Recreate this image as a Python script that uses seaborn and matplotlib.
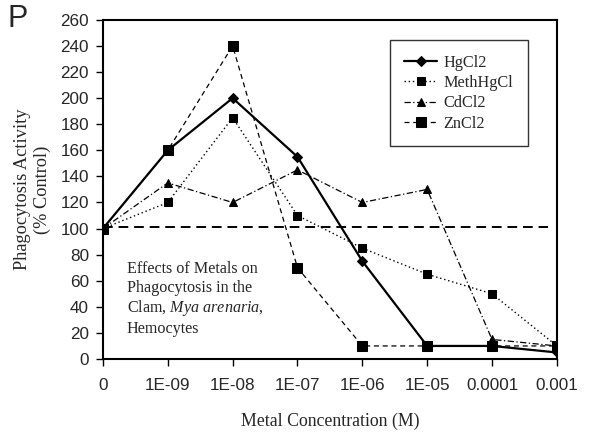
import matplotlib
matplotlib.use("Agg")
import matplotlib.pyplot as plt
import seaborn as sns
import pandas as pd

categories = ["0", "1E-09", "1E-08", "1E-07", "1E-06", "1E-05", "0.0001", "0.001"]
hgcl2 = [100, 160, 200, 155, 75, 10, 10, 5]
methhgcl = [100, 120, 185, 110, 85, 65, 50, 10]
cdcl2 = [100, 135, 120, 145, 120, 130, 15, 10]
zncl2 = [100, 160, 240, 70, 10, 10, 10, 10]
y_ticks = list(range(0, 261, 20))
control_level = 101

sns.set_theme(style="ticks")
plt.rcParams["font.family"] = ["Liberation Serif", "DejaVu Serif"]
plt.rcParams["mathtext.fontset"] = "custom"
plt.rcParams["mathtext.rm"] = "Liberation Serif"
plt.rcParams["mathtext.it"] = "Liberation Serif:italic"

fig = plt.figure(figsize=(6.02, 4.32), dpi=100)
ax = fig.add_axes([0.171, 0.169, 0.754, 0.785])

x = list(range(len(categories)))
series = [
    ("HgCl2", hgcl2, dict(linestyle="-", marker="D", markersize=5, linewidth=1.6)),
    ("MethHgCl", methhgcl, dict(linestyle=(0, (1, 2)), marker="s", markersize=6, linewidth=1.0)),
    ("CdCl2", cdcl2, dict(linestyle=(0, (5, 2, 1, 2)), marker="^", markersize=6, linewidth=0.9)),
    ("ZnCl2", zncl2, dict(linestyle=(0, (4, 3)), marker="s", markersize=7, linewidth=0.9)),
]
for name, vals, style in series:
    df = pd.DataFrame({"x": x, "y": vals})
    sns.lineplot(data=df, x="x", y="y", ax=ax, color="black", label=name,
                 markeredgecolor="black", markerfacecolor="black", **style)

ax.axhline(control_level, xmin=0, xmax=0.98, color="black", linestyle=(0, (5, 3)), linewidth=1.4)

ax.set_xlim(0, len(categories) - 1)
ax.set_ylim(0, 260)
ax.set_xticks(x)
ax.set_xticklabels(categories, fontfamily="Liberation Sans", fontsize=12.3)
ax.set_yticks(y_ticks)
ax.set_yticklabels([str(v) for v in y_ticks], fontfamily="Liberation Sans", fontsize=12.3)
ax.tick_params(axis="both", direction="out", length=5, width=1, color="black", pad=5)
ax.tick_params(axis="x", pad=9)
for s in ax.spines.values():
    s.set_visible(True)
    s.set_color("black")
    s.set_linewidth(1.5)

ax.set_xlabel("Metal Concentration (M)", fontsize=12.8, labelpad=14)
ax.set_ylabel("Phagocytosis Activity\n(% Control)", fontsize=13.2, labelpad=7)

ax.text(0.37, 75, "Effects of Metals on\nPhagocytosis in the\nClam, $\\mathit{Mya\\ arenaria}$,\nHemocytes",
        fontsize=11.6, va="top", ha="left", linespacing=1.2)

leg = ax.legend(loc="upper right", bbox_to_anchor=(0.936, 0.941), borderaxespad=0,
                frameon=True, fancybox=False, edgecolor="black", fontsize=11.7,
                handlelength=2.0, labelspacing=0.27, borderpad=0.9, handletextpad=0.4)
leg.get_frame().set_linewidth(1.0)

fig.text(0.013, 0.99, "P", fontfamily="Liberation Sans", fontsize=22, va="top", ha="left")

fig.savefig("out.png", dpi=100)
